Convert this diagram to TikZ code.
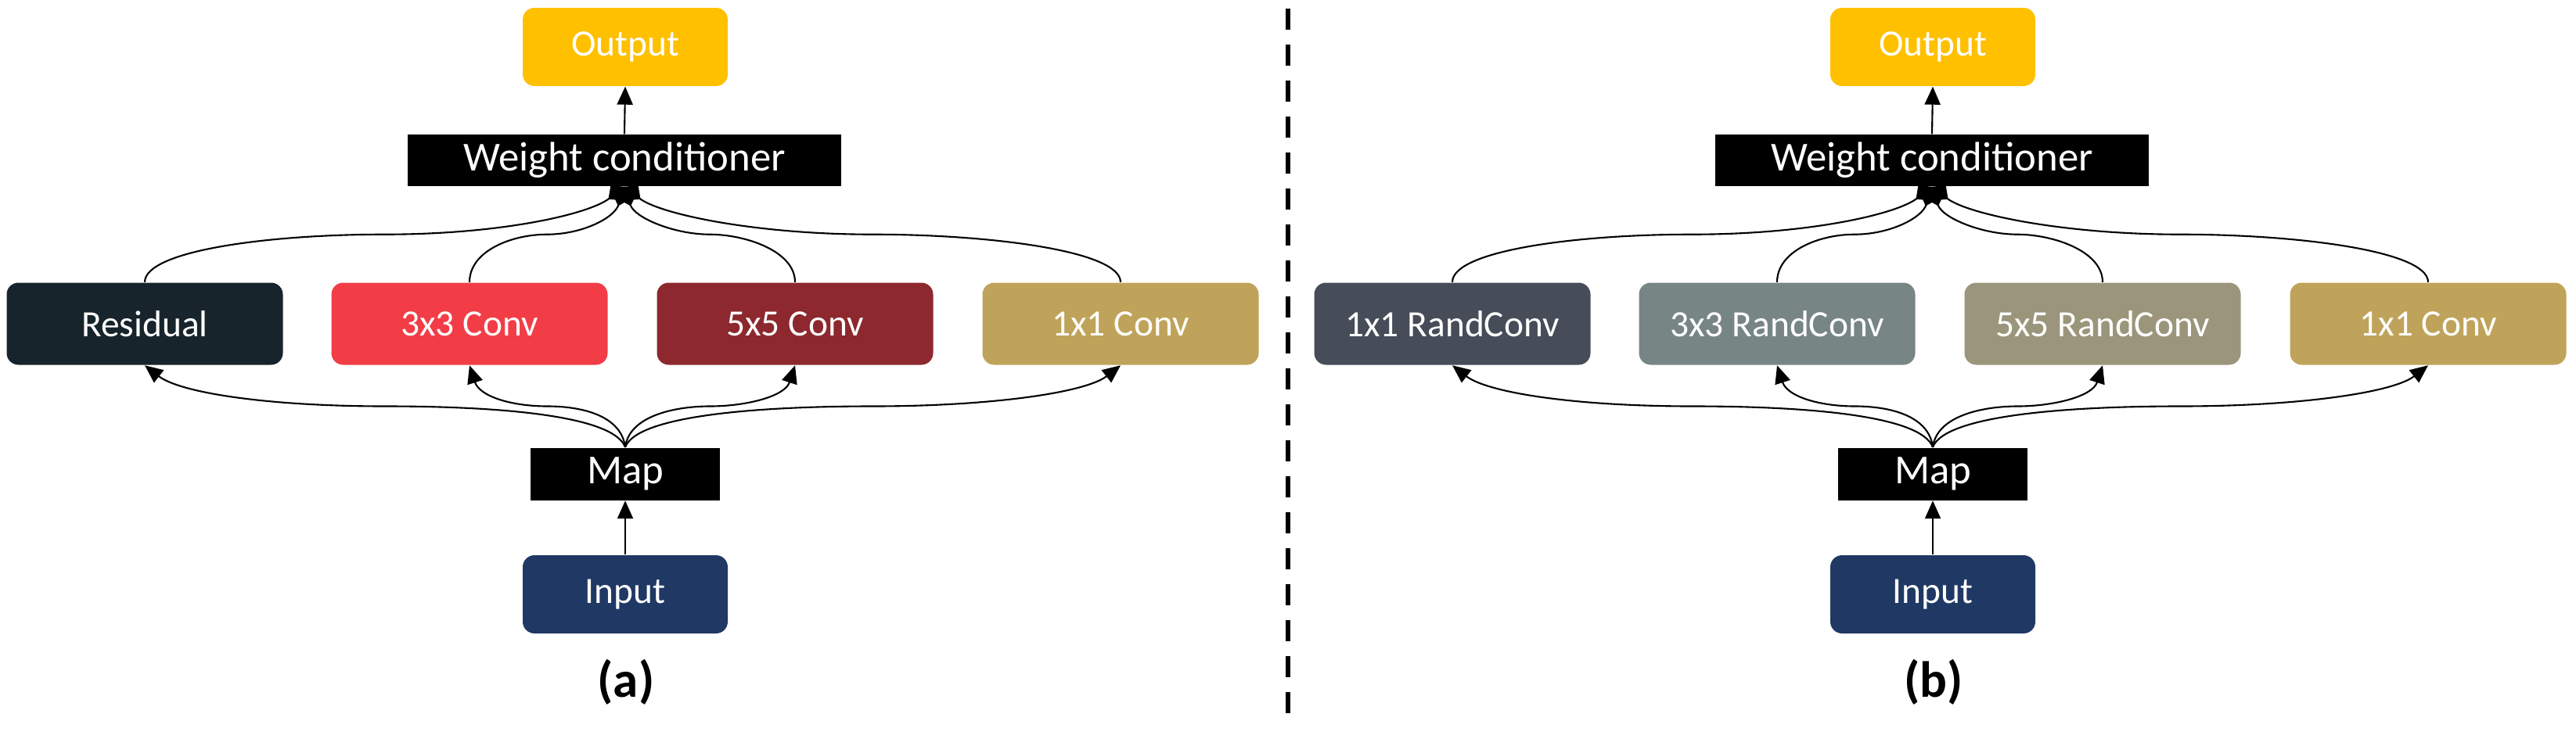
\documentclass[tikz,border=0pt]{standalone}
\usepackage{fontspec}
\setmainfont{Carlito}
\usetikzlibrary{arrows.meta,calc}
\definecolor{cOut}{HTML}{FFC000}
\definecolor{cIn}{HTML}{203864}
\definecolor{cRes}{HTML}{18242B}
\definecolor{cThree}{HTML}{F23D47}
\definecolor{cFive}{HTML}{8C282E}
\definecolor{cOne}{HTML}{C0A35A}
\definecolor{cROne}{HTML}{464C58}
\definecolor{cRThree}{HTML}{788585}
\definecolor{cRFive}{HTML}{9B967B}
\tikzset{
  box/.style={rectangle, rounded corners=0.15cm, inner sep=0pt, minimum width=3.53cm, minimum height=1.05cm, text=white, font=\fontsize{13.5}{16}\selectfont},
  io/.style={box, minimum width=2.62cm, minimum height=1.0cm},
  blk/.style={rectangle, fill=black, text=white, inner sep=0pt, minimum height=0.66cm, font=\fontsize{15}{18}\selectfont},
  conn/.style={line width=0.6pt, -{Triangle[length=0.23cm,width=0.2cm]}},
  agg/.style={line width=0.6pt, -{Diamond[length=0.26cm,width=0.24cm]}},
  capt/.style={font=\bfseries\fontsize{18.5}{22}\selectfont},
  sep/.style={line width=0.055cm, dash pattern=on 0.27cm off 0.19cm},
}
\begin{document}
\begin{tikzpicture}
\useasboundingbox (0,0) rectangle (32.92,-9.44);
% ---------- panel (a)
\node[io, fill=cOut] (aout) at (7.99,-0.60) {Output};
\node[blk, minimum width=5.54cm] (awc) at (7.98,-2.05) {Weight conditioner};
\node[box, fill=cRes] (ab1) at (1.85,-4.14) {Residual};
\node[box, fill=cThree] (ab2) at (6.00,-4.14) {3x3 Conv};
\node[box, fill=cFive] (ab3) at (10.16,-4.14) {5x5 Conv};
\node[box, fill=cOne] (ab4) at (14.32,-4.14) {1x1 Conv};
\node[blk, minimum width=2.42cm, minimum height=0.67cm] (amap) at (7.99,-6.06) {Map};
\node[io, fill=cIn] (ain) at (7.99,-7.60) {Input};
\node[capt] (acap) at (8.00,-8.72) {(a)};
% ---------- panel (b)
\node[io, fill=cOut] (bout) at (24.70,-0.60) {Output};
\node[blk, minimum width=5.54cm] (bwc) at (24.69,-2.05) {Weight conditioner};
\node[box, fill=cROne] (bb1) at (18.56,-4.14) {1x1 RandConv};
\node[box, fill=cRThree] (bb2) at (22.71,-4.14) {3x3 RandConv};
\node[box, fill=cRFive] (bb3) at (26.87,-4.14) {5x5 RandConv};
\node[box, fill=cOne] (bb4) at (31.03,-4.14) {1x1 Conv};
\node[blk, minimum width=2.42cm, minimum height=0.67cm] (bmap) at (24.70,-6.06) {Map};
\node[io, fill=cIn] (bin) at (24.70,-7.60) {Input};
\node[capt] (bcap) at (24.71,-8.72) {(b)};
% separator
\draw[sep] (16.46,-0.11) -- (16.46,-9.15);
% ---------- connectors
\foreach \p in {a,b}{
  \draw[conn] (\p in.north) -- (\p map.south);
  \draw[conn] (\p wc.north) -- (\p out.south);
  \foreach \k/\s/\h/\a/\b/\c in {1/-1/1.5/0.45/0.35/0.15, 2/-1/0.45/0.13/0.4/0.05, 3/1/0.45/0.13/0.4/0.05, 4/1/1.5/0.45/0.35/0.15}{
    % map -> boxes
    \draw[conn] (\p map.north) .. controls +({\s*\c},0.4) and +({-\s*\h},0) .. ($(\p map.north)!0.5!(\p b\k.south)$)
      .. controls +({\s*\h},0) and +({-\s*\a},-\b) .. (\p b\k.south);
    % boxes -> weight conditioner
    \draw[agg] (\p b\k.north) .. controls +(0,0.4) and +({\s*\h},0) .. ($(\p b\k.north)!0.5!(\p wc.south)$)
      .. controls +({-\s*\h},0) and +({\s*\a},-\b) .. (\p wc.south);
  }
}
\end{tikzpicture}
\end{document}
